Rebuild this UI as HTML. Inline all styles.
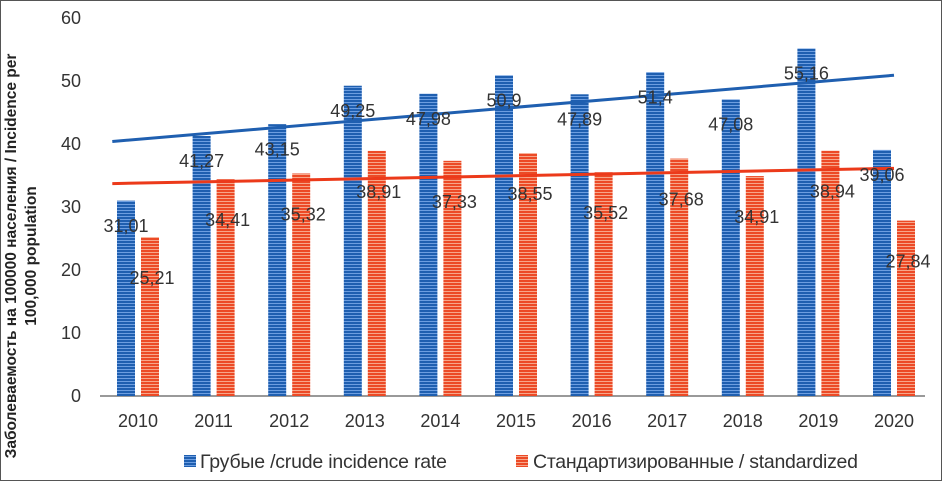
<!DOCTYPE html>
<html><head><meta charset="utf-8"><style>
body{margin:0;background:#fff;}
svg{display:block;font-family:"Liberation Sans",sans-serif;}
</style></head><body>
<svg id="c" width="942" height="481">
<defs>
<pattern id="pb" width="4" height="3" patternUnits="userSpaceOnUse"><rect width="4" height="3" fill="#1f5fb0"/><rect width="4" height="1" fill="#6d9ee0"/></pattern>
<pattern id="pr" width="4" height="3" patternUnits="userSpaceOnUse"><rect width="4" height="3" fill="#ec4a26"/><rect width="4" height="1" fill="#f7a68a"/></pattern>
</defs>
<rect x="0.5" y="0.5" width="941" height="480" fill="#fff" stroke="#555"/>
<g id="g"></g>
</svg>
<script>
const years=["2010","2011","2012","2013","2014","2015","2016","2017","2018","2019","2020"];
const crude=[31.01,41.27,43.15,49.25,47.98,50.9,47.89,51.4,47.08,55.16,39.06];
const standardized=[25.21,34.41,35.32,38.91,37.33,38.55,35.52,37.68,34.91,38.94,27.84];
const yTicks=[0,10,20,30,40,50,60];
const crudeLabels=["31,01","41,27","43,15","49,25","47,98","50,9","47,89","51,4","47,08","55,16","39,06"];
const stdLabels=["25,21","34,41","35,32","38,91","37,33","38,55","35,52","37,68","34,91","38,94","27,84"];
const NS="http://www.w3.org/2000/svg",g=document.getElementById('g');
const Y=v=>396-v*(378/60);
const X=i=>138+i*75.6;
function mk(t,a,txt){const e=document.createElementNS(NS,t);for(const k in a)e.setAttribute(k,a[k]);if(txt!==undefined)e.textContent=txt;g.appendChild(e);return e;}
yTicks.forEach(v=>{const e=mk('text',{x:81,y:Y(v)+6,'text-anchor':'end','font-size':18,fill:'#333'},v);

});
const ax=mk('line',{x1:100,x2:925,y1:396,y2:396,stroke:'#999','stroke-width':2});


years.forEach((yr,i)=>{const c=X(i);
const b=mk('rect',{x:c-21,y:Y(crude[i]),width:18,height:396-Y(crude[i]),fill:'url(#pb)'});


const r=mk('rect',{x:c+3,y:Y(standardized[i]),width:18,height:396-Y(standardized[i]),fill:'url(#pr)'});


const t=mk('text',{x:c,y:427,'text-anchor':'middle','font-size':18,fill:'#333'},yr);

});
function trend(arr,col,nm){const n=arr.length,mx=(n-1)/2,my=arr.reduce((a,b)=>a+b)/n;let s=0,q=0;arr.forEach((v,i)=>{s+=(i-mx)*(v-my);q+=(i-mx)**2;});const k=s/q,a=my-k*mx;
const x0=-0.34,x1=10;const l=mk('line',{x1:X(x0),y1:Y(a+k*x0),x2:X(x1),y2:Y(a+k*x1),stroke:col,'stroke-width':3});

}
trend(crude,'#1f5fb0','trend-crude');
trend(standardized,'#ec3a1a','trend-standardized');
years.forEach((yr,i)=>{const c=X(i);
const a=mk('text',{x:c-12,y:Y(crude[i]-4)+6,'text-anchor':'middle','font-size':18,fill:'#333'},crudeLabels[i]);


const b=mk('text',{x:c+14,y:Y(standardized[i]-6.5)+6,'text-anchor':'middle','font-size':18,fill:'#333'},stdLabels[i]);

});
const yt=mk('text',{transform:'translate(24,256) rotate(-90)','text-anchor':'middle','font-size':15.5,'font-weight':'bold',fill:'#222'});


const t1=document.createElementNS(NS,'tspan');t1.setAttribute('x',0);t1.setAttribute('dy',-8);t1.textContent='Заболеваемость на 100000 населения / Incidence per';yt.appendChild(t1);
const t2=document.createElementNS(NS,'tspan');t2.setAttribute('x',0);t2.setAttribute('dy',20);t2.textContent='100,000 population';yt.appendChild(t2);
const l1=mk('rect',{x:184,y:455,width:12,height:12,fill:'url(#pb)'});


const lt1=mk('text',{x:200,y:468,'font-size':19.5,fill:'#333',textLength:247},'Грубые /crude incidence rate');


const l2=mk('rect',{x:516,y:455,width:12,height:12,fill:'url(#pr)'});


const lt2=mk('text',{x:533,y:468,'font-size':19.5,fill:'#333',textLength:325},'Стандартизированные / standardized');


</script>
</body></html>
